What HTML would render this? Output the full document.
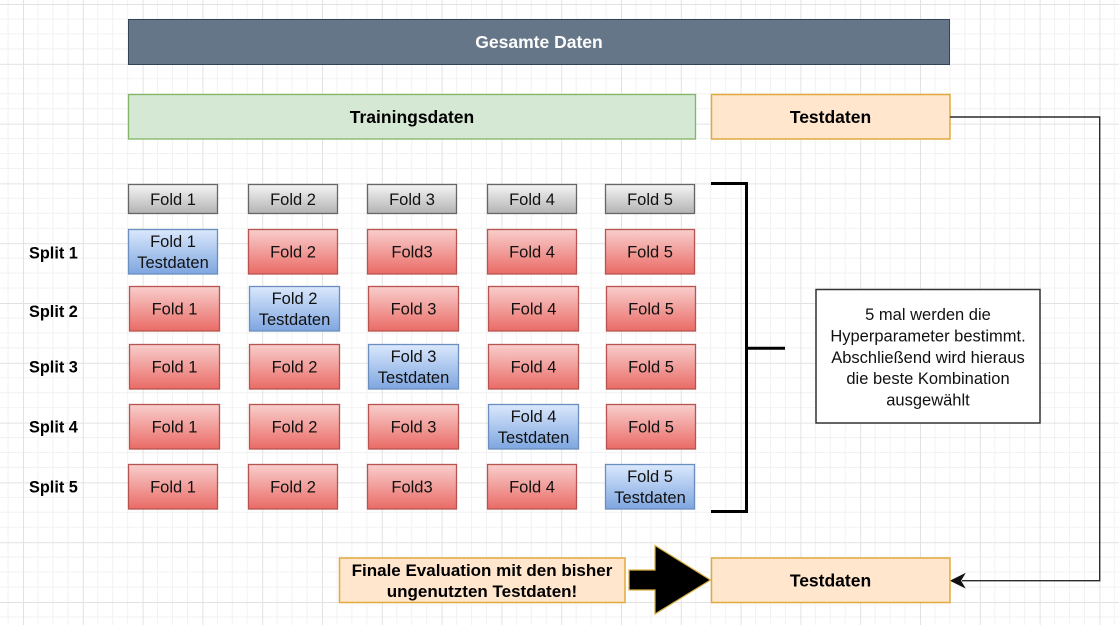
<!DOCTYPE html>
<html><head><meta charset="utf-8"><style>
html,body{margin:0;padding:0;background:#fff;}
svg{display:block;}
text{font-family:"Liberation Sans",Arial,sans-serif;}
</style></head><body>
<svg width="1119" height="625" viewBox="0 0 1119 625" xmlns="http://www.w3.org/2000/svg">
<defs>
<pattern id="grid" x="23" y="4" width="59.8" height="59.8" patternUnits="userSpaceOnUse">
<rect x="14.45" y="0" width="1" height="59.8" fill="#f2f2f2"/>
<rect x="29.4" y="0" width="1" height="59.8" fill="#f2f2f2"/>
<rect x="44.35" y="0" width="1" height="59.8" fill="#f2f2f2"/>
<rect x="0" y="14.45" width="59.8" height="1" fill="#f2f2f2"/>
<rect x="0" y="29.4" width="59.8" height="1" fill="#f2f2f2"/>
<rect x="0" y="44.35" width="59.8" height="1" fill="#f2f2f2"/>
<rect x="0" y="0" width="1" height="59.8" fill="#e2e2e2"/>
<rect x="0" y="0" width="59.8" height="1" fill="#e2e2e2"/>
</pattern>
<linearGradient id="red" x1="0" y1="0" x2="0" y2="1"><stop offset="0" stop-color="#f8cecc"/><stop offset="1" stop-color="#ea6b66"/></linearGradient>
<linearGradient id="blue" x1="0" y1="0" x2="0" y2="1"><stop offset="0" stop-color="#dae8fc"/><stop offset="1" stop-color="#7ea6e0"/></linearGradient>
<linearGradient id="gray" x1="0" y1="0" x2="0" y2="1"><stop offset="0" stop-color="#f5f5f5"/><stop offset="1" stop-color="#b3b3b3"/></linearGradient>
</defs>
<rect x="0" y="0" width="1119" height="625" fill="#fff"/>
<rect x="0" y="0" width="1119" height="625" fill="url(#grid)"/>

<!-- Gesamte Daten -->
<rect x="128.5" y="19.5" width="821" height="45" fill="#647687" stroke="#314354" stroke-width="1"/>
<text x="539" y="48" font-size="17.5" font-weight="bold" fill="#fff" text-anchor="middle">Gesamte Daten</text>

<!-- Trainingsdaten / Testdaten -->
<rect x="128.5" y="94.5" width="567" height="44.5" fill="#d5e8d4" stroke="#82b366" stroke-width="1.3"/>
<text x="412" y="123" font-size="17.5" font-weight="bold" fill="#000" text-anchor="middle">Trainingsdaten</text>
<rect x="711.5" y="94.5" width="238.5" height="44.5" fill="#ffe6cc" stroke="#e0aa3e" stroke-width="1.5"/>
<text x="830.5" y="123" font-size="17.5" font-weight="bold" fill="#000" text-anchor="middle">Testdaten</text>

<!-- Header folds -->
<g stroke="#666" stroke-width="1.3" fill="url(#gray)">
<rect x="128.5" y="184.5" width="89" height="29"/>
<rect x="248.5" y="184.5" width="89" height="29"/>
<rect x="367.5" y="184.5" width="89" height="29"/>
<rect x="487.5" y="184.5" width="89" height="29"/>
<rect x="605.5" y="184.5" width="89" height="29"/>
</g>
<g font-size="16.5" fill="#111" text-anchor="middle">
<text x="173" y="205">Fold 1</text>
<text x="293" y="205">Fold 2</text>
<text x="412" y="205">Fold 3</text>
<text x="532" y="205">Fold 4</text>
<text x="650" y="205">Fold 5</text>
</g>

<!-- Rows -->
<g stroke-width="1.3">
<!-- Split 1 -->
<rect x="128.5" y="229.5" width="89" height="44.5" fill="url(#blue)" stroke="#6c8ebf"/>
<rect x="248.5" y="229.5" width="89" height="44.5" fill="url(#red)" stroke="#b85450"/>
<rect x="367.5" y="229.5" width="89" height="44.5" fill="url(#red)" stroke="#b85450"/>
<rect x="487.5" y="229.5" width="89" height="44.5" fill="url(#red)" stroke="#b85450"/>
<rect x="605.5" y="229.5" width="89" height="44.5" fill="url(#red)" stroke="#b85450"/>
<!-- Split 2 -->
<rect x="129.5" y="286.5" width="90" height="44.5" fill="url(#red)" stroke="#b85450"/>
<rect x="249.5" y="286.5" width="90" height="44.5" fill="url(#blue)" stroke="#6c8ebf"/>
<rect x="368.5" y="286.5" width="90" height="44.5" fill="url(#red)" stroke="#b85450"/>
<rect x="488.5" y="286.5" width="90" height="44.5" fill="url(#red)" stroke="#b85450"/>
<rect x="606.5" y="286.5" width="89" height="44.5" fill="url(#red)" stroke="#b85450"/>
<!-- Split 3 -->
<rect x="129.5" y="344.5" width="90" height="44.5" fill="url(#red)" stroke="#b85450"/>
<rect x="249.5" y="344.5" width="90" height="44.5" fill="url(#red)" stroke="#b85450"/>
<rect x="368.5" y="344.5" width="90" height="44.5" fill="url(#blue)" stroke="#6c8ebf"/>
<rect x="488.5" y="344.5" width="90" height="44.5" fill="url(#red)" stroke="#b85450"/>
<rect x="606.5" y="344.5" width="89" height="44.5" fill="url(#red)" stroke="#b85450"/>
<!-- Split 4 -->
<rect x="129.5" y="404.5" width="90" height="44.5" fill="url(#red)" stroke="#b85450"/>
<rect x="249.5" y="404.5" width="90" height="44.5" fill="url(#red)" stroke="#b85450"/>
<rect x="368.5" y="404.5" width="90" height="44.5" fill="url(#red)" stroke="#b85450"/>
<rect x="488.5" y="404.5" width="90" height="44.5" fill="url(#blue)" stroke="#6c8ebf"/>
<rect x="606.5" y="404.5" width="89" height="44.5" fill="url(#red)" stroke="#b85450"/>
<!-- Split 5 -->
<rect x="128.5" y="464.5" width="89" height="44.5" fill="url(#red)" stroke="#b85450"/>
<rect x="248.5" y="464.5" width="89" height="44.5" fill="url(#red)" stroke="#b85450"/>
<rect x="367.5" y="464.5" width="89" height="44.5" fill="url(#red)" stroke="#b85450"/>
<rect x="487.5" y="464.5" width="89" height="44.5" fill="url(#red)" stroke="#b85450"/>
<rect x="605.5" y="464.5" width="89" height="44.5" fill="url(#blue)" stroke="#6c8ebf"/>
</g>

<g font-size="16.5" fill="#111" text-anchor="middle">
<!-- Split 1 -->
<text x="173" y="247">Fold 1</text>
<text x="173" y="268">Testdaten</text>
<text x="293" y="257.5">Fold 2</text>
<text x="412" y="257.5">Fold3</text>
<text x="532" y="257.5">Fold 4</text>
<text x="650" y="257.5">Fold 5</text>
<!-- Split 2 -->
<text x="174.5" y="314.5">Fold 1</text>
<text x="294.5" y="304">Fold 2</text>
<text x="294.5" y="325">Testdaten</text>
<text x="413.5" y="314.5">Fold 3</text>
<text x="533.5" y="314.5">Fold 4</text>
<text x="651" y="314.5">Fold 5</text>
<!-- Split 3 -->
<text x="174.5" y="372.5">Fold 1</text>
<text x="294.5" y="372.5">Fold 2</text>
<text x="413.5" y="362">Fold 3</text>
<text x="413.5" y="383">Testdaten</text>
<text x="533.5" y="372.5">Fold 4</text>
<text x="651" y="372.5">Fold 5</text>
<!-- Split 4 -->
<text x="174.5" y="432.5">Fold 1</text>
<text x="294.5" y="432.5">Fold 2</text>
<text x="413.5" y="432.5">Fold 3</text>
<text x="533.5" y="422">Fold 4</text>
<text x="533.5" y="443">Testdaten</text>
<text x="651" y="432.5">Fold 5</text>
<!-- Split 5 -->
<text x="173" y="492.5">Fold 1</text>
<text x="293" y="492.5">Fold 2</text>
<text x="412" y="492.5">Fold3</text>
<text x="532" y="492.5">Fold 4</text>
<text x="650" y="482">Fold 5</text>
<text x="650" y="503">Testdaten</text>
</g>

<!-- Split labels -->
<g font-size="16.3" font-weight="bold" fill="#000">
<text x="29" y="258.5">Split 1</text>
<text x="29" y="316.8">Split 2</text>
<text x="29" y="372.5">Split 3</text>
<text x="29" y="432.5">Split 4</text>
<text x="29" y="492.5">Split 5</text>
</g>

<!-- Bracket -->
<path d="M711,183.5 H746.5 V511.5 H711 M746.5,348.3 H785" fill="none" stroke="#000" stroke-width="3"/>

<!-- Info box -->
<rect x="816" y="289.5" width="224" height="133.5" fill="#fff" stroke="#333" stroke-width="1.5"/>
<g font-size="16.5" fill="#111" text-anchor="middle">
<text x="928" y="320">5 mal werden die</text>
<text x="928" y="341.4">Hyperparameter bestimmt.</text>
<text x="928" y="362.8">Abschließend wird hieraus</text>
<text x="928" y="384.2">die beste Kombination</text>
<text x="928" y="405.6">ausgewählt</text>
</g>

<!-- Connector -->
<polyline points="950,117 1099.7,117 1099.7,580.7 962,580.7" fill="none" stroke="#2a2a2a" stroke-width="1.4"/>
<polygon points="951,580.7 964.5,574 960.5,580.7 964.5,587.4" fill="#111" stroke="#111" stroke-width="1"/>

<!-- Bottom row -->
<rect x="339.5" y="558" width="285.5" height="44.5" fill="#ffe6cc" stroke="#e0aa3e" stroke-width="1.5"/>
<g font-size="17" font-weight="bold" fill="#000" text-anchor="middle">
<text x="482" y="576">Finale Evaluation mit den bisher</text>
<text x="482" y="597">ungenutzten Testdaten!</text>
</g>
<polygon points="629,570 655,570 655,545.5 710.5,580 655,614 655,590 629,590" fill="#000" stroke="#d9b24a" stroke-width="1.2" stroke-linejoin="miter"/>
<rect x="711.5" y="558" width="238.5" height="44.5" fill="#ffe6cc" stroke="#e0aa3e" stroke-width="1.5"/>
<text x="830.5" y="586.5" font-size="17.5" font-weight="bold" fill="#000" text-anchor="middle">Testdaten</text>
</svg>
</body></html>
